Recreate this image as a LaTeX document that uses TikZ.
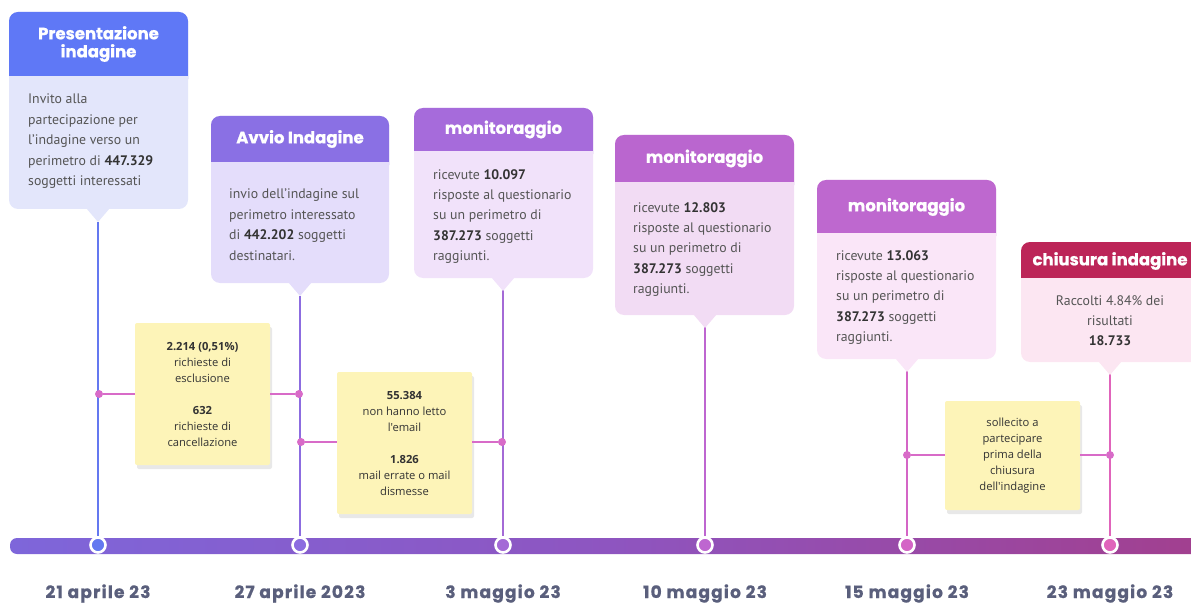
\documentclass[tikz,border=0pt]{standalone}
\usepackage{fontspec}
\setmainfont{PT Sans}
\newfontfamily\headfont{Poppins}[BoldFeatures={FakeBold=0.8}]
\newfontfamily\datefont{Poppins}[LetterSpace=7,BoldFeatures={FakeBold=0.8}]
\newfontfamily\notefont{Open Sans}
\usetikzlibrary{shadows}
\definecolor{hA}{HTML}{5F78F6}\definecolor{bA}{HTML}{E3E6FB}
\definecolor{hB}{HTML}{8A70E4}\definecolor{bB}{HTML}{E4DDFB}
\definecolor{hC}{HTML}{A66BDB}\definecolor{bC}{HTML}{F1E2FA}
\definecolor{hD}{HTML}{BA66CF}\definecolor{bD}{HTML}{F2DCF4}
\definecolor{hE}{HTML}{BE68CF}\definecolor{bE}{HTML}{FAE6F8}
\definecolor{hF}{HTML}{BC2558}\definecolor{bF}{HTML}{FCE6F2}
\definecolor{lA}{HTML}{6478F0}\definecolor{lB}{HTML}{8C6CE0}
\definecolor{lC}{HTML}{A46AD6}\definecolor{lD}{HTML}{BE66D0}
\definecolor{lE}{HTML}{D465C6}\definecolor{lF}{HTML}{E064BB}
\definecolor{conn}{HTML}{D86BC8}
\definecolor{notey}{HTML}{FDF4B8}
\definecolor{txtgray}{HTML}{555555}
\definecolor{numgray}{HTML}{333333}
\definecolor{datecol}{HTML}{5A5F7C}
\definecolor{sA}{HTML}{5B75F2}\definecolor{sB}{HTML}{7E66DA}
\definecolor{sC}{HTML}{8E55C0}\definecolor{sD}{HTML}{A23F8E}
\definecolor{sE}{HTML}{C42558}
\pgfdeclarehorizontalshading{barshade}{100bp}{color(0bp)=(sA); color(25bp)=(sB); color(50bp)=(sC); color(75bp)=(sD); color(100bp)=(sE)}
\newcommand{\tlbox}[8]{%
  \fill[#7, rounded corners=9pt] (#1,#2) rectangle (#3,#5);
  \fill[#6, rounded corners=9pt] (#1,#2) rectangle (#3,#4+12);
  \fill[#7] (#1,#4) rectangle (#3,#4+14);
  \fill[#7] (#8-12,#5-1) -- (#8+12,#5-1) -- (#8,#5+13) -- cycle;
}
\newcommand{\nb}[1]{{\bfseries\color{numgray}#1}}
\begin{document}
\begin{tikzpicture}[x=1pt,y=-1pt,
  bodytxt/.style={anchor=north west, inner sep=0pt, align=left, text=txtgray, font=\fontsize{13.8}{20.4}\selectfont},
  headtxt/.style={text=white, font=\headfont\bfseries\fontsize{16.5}{18}\selectfont, align=center, inner sep=0pt},
  datetxt/.style={text=datecol, font=\datefont\bfseries\fontsize{17}{18}\selectfont, inner sep=0pt, anchor=base},
  note/.style={fill=notey, rounded corners=2pt, minimum width=135pt, align=center, inner sep=0pt, text=numgray,
    font=\notefont\fontsize{11.2}{16}\selectfont, drop shadow={opacity=0.18, shadow xshift=2pt, shadow yshift=-4pt}},
  vline/.style={line width=2.6pt},
  hline/.style={conn, line width=2pt},
  hdot/.style={circle, fill=conn, inner sep=0pt, minimum size=8pt},
  tdot/.style={circle, draw=white, line width=2.6pt, inner sep=0pt, minimum size=15pt}]
\useasboundingbox (0,0) rectangle (1191,604);
% timeline bar
\shade[shading=barshade, rounded corners=7pt] (10,538) rectangle (1210,554);
% coordinates
\coordinate (p1) at (98,222);
\coordinate (p2) at (300,296);
\coordinate (p3) at (503,290);
\coordinate (p4) at (705,327);
\coordinate (p5) at (907,371);
\coordinate (p6) at (1110,374);
\node[tdot, fill=lA] (t1) at (98,545) {};
\node[tdot, fill=lB] (t2) at (300,545) {};
\node[tdot, fill=lC] (t3) at (503,545) {};
\node[tdot, fill=lD] (t4) at (705,545) {};
\node[tdot, fill=lE] (t5) at (907,545) {};
\node[tdot, fill=lF] (t6) at (1110,545) {};
\draw[vline, lA] (p1) -- (t1.north);
\draw[vline, lB] (p2) -- (t2.north);
\draw[vline, lC] (p3) -- (t3.north);
\draw[vline, lD] (p4) -- (t4.north);
\draw[vline, lE] (p5) -- (t5.north);
\draw[vline, lF] (p6) -- (t6.north);
% boxes
\tlbox{9}{12}{188}{76}{209}{hA}{bA}{98}
\node[headtxt] (h1) at (98.5,44) {Presentazione\\indagine};
\node[bodytxt] (b1) at (28,94) {Invito alla\\partecipazione per\\l'indagine verso un\\perimetro di \nb{447.329}\\soggetti interessati};
\tlbox{211}{116}{389}{162}{283}{hB}{bB}{300}
\node[headtxt] (h2) at (300,139) {Avvio Indagine};
\node[bodytxt] (b2) at (229,189) {invio dell'indagine sul\\perimetro interessato\\di \nb{442.202} soggetti\\destinatari.};
\tlbox{414}{108}{593}{151}{278}{hC}{bC}{503}
\node[headtxt] (h3) at (503.5,129.5) {monitoraggio};
\node[bodytxt] (b3) at (433,169) {ricevute \nb{10.097}\\risposte al questionario\\su un perimetro di\\\nb{387.273} soggetti\\raggiunti.};
\tlbox{615}{135}{794}{182}{315}{hD}{bD}{705}
\node[headtxt] (h4) at (704.5,158.5) {monitoraggio};
\node[bodytxt] (b4) at (633,202) {ricevute \nb{12.803}\\risposte al questionario\\su un perimetro di\\\nb{387.273} soggetti\\raggiunti.};
\tlbox{817}{180}{996}{233}{359}{hE}{bE}{907}
\node[headtxt] (h5) at (906.5,207) {monitoraggio};
\node[bodytxt] (b5) at (836,250) {ricevute \nb{13.063}\\risposte al questionario\\su un perimetro di\\\nb{387.273} soggetti\\raggiunti.};
\tlbox{1021}{242}{1215}{278}{362}{hF}{bF}{1110}
\node[headtxt] (h6) at (1110,261) {chiusura indagine};
\node[bodytxt, anchor=north, align=center] (b6) at (1110,295) {Raccolti 4.84\% dei\\risultati\\\nb{18.733}};
% sticky notes
\node[note, minimum height=142pt] (nA) at (202.5,394) {\textbf{2.214 (0,51\%)}\\richieste di\\esclusione\\[16pt]\textbf{632}\\richieste di\\cancellazione};
\node[note, minimum height=142pt] (nB) at (404.5,443) {\textbf{55.384}\\non hanno letto\\l'email\\[16pt]\textbf{1.826}\\mail errate o mail\\dismesse};
\node[note, minimum height=109pt] (nC) at (1012.5,455.5) {sollecito a\\partecipare\\prima della\\chiusura\\dell'indagine};
\node[hdot] (a1) at (99,394) {};  \node[hdot] (a2) at (299,394) {};
\node[hdot] (a3) at (301,442) {}; \node[hdot] (a4) at (502,442) {};
\node[hdot] (a5) at (907,455) {}; \node[hdot] (a6) at (1110,455) {};
\draw[hline] (a1) -- (a1 -| nA.west);
\draw[hline] (a2 -| nA.east) -- (a2);
\draw[hline] (a3) -- (a3 -| nB.west);
\draw[hline] (a4 -| nB.east) -- (a4);
\draw[hline] (a5) -- (a5 -| nC.west);
\draw[hline] (a6 -| nC.east) -- (a6);
% dates
\node[datetxt] (d1) at (98,598) {21 aprile 23};
\node[datetxt] (d2) at (300,598) {27 aprile 2023};
\node[datetxt] (d3) at (503,598) {3 maggio 23};
\node[datetxt] (d4) at (705,598) {10 maggio 23};
\node[datetxt] (d5) at (907,598) {15 maggio 23};
\node[datetxt] (d6) at (1110,598) {23 maggio 23};
\end{tikzpicture}
\end{document}
